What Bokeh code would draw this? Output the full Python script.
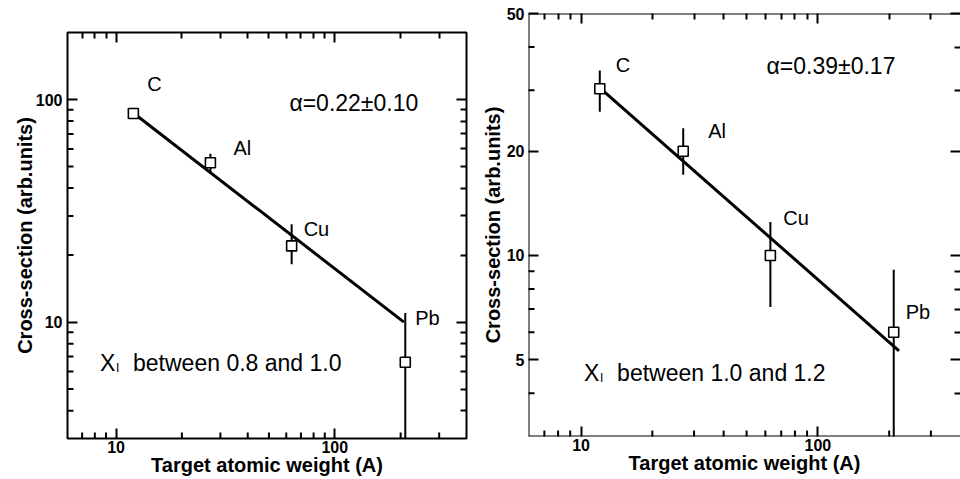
import math
from bokeh.plotting import figure
from bokeh.layouts import row
from bokeh.models import (Label, LogAxis, FixedTicker, PrintfTickFormatter,
                          CustomJSTickFormatter, ColumnDataSource, Span)
from bokeh.core.properties import value
from bokeh.embed import file_html
from bokeh.resources import INLINE

# ---------------- data ----------------
elements = ["C", "Al", "Cu", "Pb"]

a_left = [12, 27, 63.5, 210]
sigma_left = [86.5, 52, 22, 6.6]
err_lo_left = [84, 46.5, 18.2, 1.0]
err_hi_left = [89, 57, 27.5, 11]
fit_a_left = [12, 207]
fit_sigma_left = [87, 10]
alpha_left = "α=0.22±0.10"
bin_left = "between 0.8 and 1.0"

a_right = [12, 27, 63, 209]
sigma_right = [30.3, 20, 10, 6.0]
err_lo_right = [26, 17.1, 7.1, 1.0]
err_hi_right = [34.2, 23.3, 12.5, 9.1]
fit_a_right = [12, 220]
fit_sigma_right = [30.5, 5.3]
alpha_right = "α=0.39±0.17"
bin_right = "between 1.0 and 1.2"

x_lim = (6, 400)
y_lim_left = (3, 200)
y_lim_right = (3, 50)

x_major = [10, 100]
x_minor = [7, 8, 9, 20, 30, 40, 50, 60, 70, 80, 90, 200, 300]
y_major_left = [10, 100]
y_minor_left = [4, 5, 6, 7, 8, 9, 20, 30, 40, 50, 60, 70, 80, 90]
y_major_right = [5, 10, 20, 50]
y_minor_right = [4, 6, 7, 8, 9, 30, 40]

x_title = "Target atomic weight (A)"
y_title = "Cross-section (arb.units)"

FONT = "Liberation Sans"
FONT_V = value(FONT)

# label placement (pixels, relative to each point)
dx_left = [14, 23, 12, 10]
dy_left = [-30, -15, -17, -44]
dx_right = [16, 25, 13, 12]
dy_right = [-24, -20, -37, -20]


def tick_axis(major, minor):
    """Zero-size axis that only draws inward tick marks."""
    ax = LogAxis(ticker=FixedTicker(ticks=major, minor_ticks=minor))
    ax.axis_line_color = None
    ax.major_tick_line_width = 2
    ax.major_tick_line_color = "black"
    ax.minor_tick_line_width = 2
    ax.minor_tick_line_color = "black"
    ax.major_tick_in = 10
    ax.major_tick_out = 0
    ax.minor_tick_in = 6
    ax.minor_tick_out = 0
    ax.formatter = CustomJSTickFormatter(code="return ''")
    ax.major_label_standoff = 0
    ax.major_label_text_font_size = "0px"
    return ax


def label_axis(major, title, standoff, title_standoff):
    """Axis that draws the long ticks, the tick labels and the title."""
    ax = LogAxis(ticker=FixedTicker(ticks=major, minor_ticks=[]))
    ax.axis_line_color = None
    ax.major_tick_line_color = "black"
    ax.major_tick_line_width = 2
    ax.minor_tick_line_color = None
    ax.major_tick_in = 10
    ax.major_tick_out = 0
    ax.minor_tick_in = 0
    ax.minor_tick_out = 0
    ax.formatter = PrintfTickFormatter(format="%d")
    ax.major_label_text_font = FONT
    ax.major_label_text_font_size = "16px"
    ax.major_label_text_font_style = "bold"
    ax.major_label_text_color = "black"
    ax.major_label_standoff = standoff
    ax.axis_label = title
    ax.axis_label_text_font = FONT
    ax.axis_label_text_font_size = "20px"
    ax.axis_label_text_font_style = "bold"
    ax.axis_label_text_color = "black"
    ax.axis_label_standoff = title_standoff
    return ax


def panel(width, height, yr, borders, a, s, lo, hi, fa, fs, dx, dy,
          ymaj, ymin, alpha_txt, alpha_pos, bin_txt, bin_pos,
          y_standoffs, outline=True):
    p = figure(width=width, height=height, x_axis_type="log", y_axis_type="log",
               x_range=x_lim, y_range=yr, output_backend="svg",
               toolbar_location=None, x_axis_location=None,
               y_axis_location=None, min_border_left=borders[0],
               min_border_right=borders[1], min_border_top=borders[2],
               min_border_bottom=borders[3])
    p.frame_align = False
    p.xgrid.visible = False
    p.ygrid.visible = False
    p.background_fill_color = "white"
    p.border_fill_color = "white"
    if outline:
        p.outline_line_color = "black"
        p.outline_line_width = 2
    else:
        p.outline_line_color = None
        for loc, dim in ((x_lim[0], "height"), (yr[0], "width"), (yr[1], "width")):
            p.add_layout(Span(location=loc, dimension=dim, line_color="black",
                              line_width=2))

    p.add_layout(label_axis(x_major, x_title, 2, -2), "below")
    p.add_layout(label_axis(ymaj, y_title, y_standoffs[0], y_standoffs[1]), "left")
    p.add_layout(tick_axis(x_major, x_minor), "above")
    p.add_layout(tick_axis(ymaj, ymin), "right")

    # short inward ticks on the bottom and left edges: dash markers centred on
    # the frame edge, whose outer half is clipped away by the frame
    p.scatter(x_minor, [yr[0]] * len(x_minor), marker="dash", size=12,
              angle=math.pi / 2, line_color="black", line_width=2)
    p.scatter([x_lim[0]] * len(ymin), ymin, marker="dash", size=12,
              line_color="black", line_width=2)

    src = ColumnDataSource(dict(a=a, s=s, lo=lo, hi=hi, name=elements,
                                dx=dx, dy=dy))
    p.line(fa, fs, line_width=3, line_color="black")
    p.segment(x0="a", y0="lo", x1="a", y1="hi", source=src,
              line_width=2, line_color="black")
    p.scatter("a", "s", source=src, marker="square", size=10,
              fill_color="white", line_color="black", line_width=1.6)
    p.text("a", "s", text="name", source=src, x_offset="dx", y_offset="dy",
           text_font=FONT_V, text_font_size="20px", text_baseline="middle",
           text_align="left", text_color="black")

    p.add_layout(Label(x=alpha_pos[0], y=alpha_pos[1], text=alpha_txt,
                       text_font=FONT, text_font_size="23px",
                       text_baseline="middle", text_align="left",
                       text_color="black"))
    p.add_layout(Label(x=bin_pos[0], y=bin_pos[1], text="X",
                       text_font=FONT, text_font_size="23px",
                       text_baseline="middle", text_align="left",
                       text_color="black"))
    p.add_layout(Label(x=bin_pos[0], y=bin_pos[1], text="I",
                       x_offset=16, y_offset=-5,
                       text_font=FONT, text_font_size="12px",
                       text_baseline="middle", text_align="left",
                       text_color="black"))
    p.add_layout(Label(x=bin_pos[0], y=bin_pos[1], text=bin_txt,
                       x_offset=33,
                       text_font=FONT, text_font_size="23px",
                       text_baseline="middle", text_align="left",
                       text_color="black"))
    return p


p1 = panel(478, 479, y_lim_left, (67, 12, 32, 41), a_left, sigma_left,
           err_lo_left, err_hi_left, fit_a_left, fit_sigma_left,
           dx_left, dy_left, y_major_left, y_minor_left,
           alpha_left, (62, 96), bin_left, (8.45, 6.55), (5, -3))
p2 = panel(482, 479, y_lim_right, (47, 0, 13, 43), a_right, sigma_right,
           err_lo_right, err_hi_right, fit_a_right, fit_sigma_right,
           dx_right, dy_right, y_major_right, y_minor_right,
           alpha_right, (60.7, 35.3), bin_right, (10.3, 4.58), (4, 0),
           outline=False)

layout = row(p1, p2)
open("out.html", "w").write(file_html(layout, INLINE))
